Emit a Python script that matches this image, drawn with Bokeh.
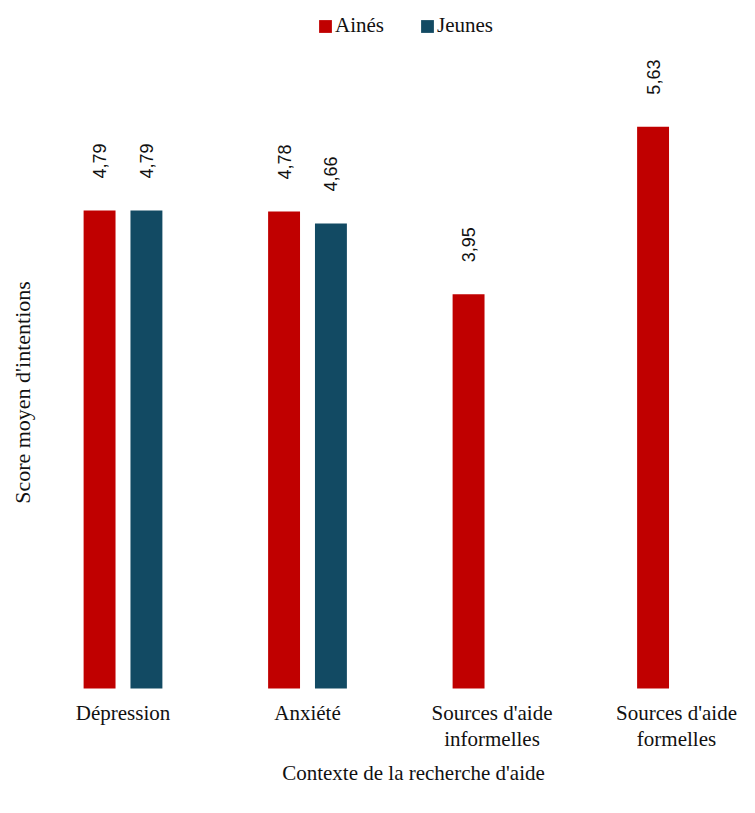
import math

from bokeh.embed import file_html
from bokeh.models import ColumnDataSource, Legend, LegendItem, Range1d
from bokeh.plotting import figure
from bokeh.resources import INLINE
from bokeh.core.properties import value

# Contexts of help seeking and mean intention scores per age group
categories = ["Dépression", "Anxiété", "Sources d'aide\ninformelles", "Sources d'aide\nformelles"]
aines = [4.79, 4.78, 3.95, 5.63]
jeunes = [4.79, 4.66, None, None]
aines_labels = ["4,79", "4,78", "3,95", "5,63"]
jeunes_labels = ["4,79", "4,66", None, None]
x_title = "Contexte de la recherche d'aide"
y_title = "Score moyen d'intentions"

RED = "#C00000"
TEAL = "#124A63"
INK = "#111111"
SERIF = "Liberation Serif"
SANS = "Liberation Sans"

W, H = 755, 813
BAR_W = 0.173
OFFSET = 0.127

# the plotting area covers the whole page; the ranges put the bars' baseline
# near the bottom and leave room for category names and titles
PX_X = 184.5            # pixels per category step
PX_Y = 99.8             # pixels per score unit
X0 = -122.5 / PX_X
X1 = X0 + W / PX_X
Y1 = 688 / PX_Y
Y0 = Y1 - H / PX_Y

idx = list(range(len(categories)))

src_a = ColumnDataSource(dict(
    x=[i - OFFSET for i in idx],
    top=aines,
    label=aines_labels,
))
j_idx = [i for i in idx if jeunes[i] is not None]
src_j = ColumnDataSource(dict(
    x=[i + OFFSET for i in j_idx],
    top=[jeunes[i] for i in j_idx],
    label=[jeunes_labels[i] for i in j_idx],
))
src_cat = ColumnDataSource(dict(x=idx, y=[0] * len(idx), text=categories))

p = figure(
    width=W, height=H,
    x_range=Range1d(X0, X1),
    y_range=Range1d(Y0, Y1),
    output_backend="svg",
    toolbar_location=None,
    x_axis_location=None, y_axis_location=None,
    min_border=0,
)
p.outline_line_color = None
p.grid.visible = False
p.background_fill_color = "white"
p.border_fill_color = "white"

r_a = p.vbar(x="x", top="top", width=BAR_W, bottom=0, source=src_a,
             fill_color=RED, line_color=None)
r_j = p.vbar(x="x", top="top", width=BAR_W, bottom=0, source=src_j,
             fill_color=TEAL, line_color=None)

# value labels, rotated, above each bar
for src in (src_a, src_j):
    p.text(x="x", y="top", text="label", source=src,
           angle=math.pi / 2, text_align="left", text_baseline="middle",
           y_offset=-32, text_font=value(SANS), text_font_size="18px",
           text_color=INK)

# category names under each group
p.text(x="x", y="y", text="text", source=src_cat,
       text_align="center", text_baseline="top", y_offset=12,
       text_font=value(SERIF), text_font_size="21px", text_color=INK,
       text_line_height=1.1)

# axis titles
p.text(x=[X0 + 413 / PX_X], y=[Y1 - 772 / PX_Y], text=[x_title],
       text_align="center", text_baseline="middle",
       text_font=value(SERIF), text_font_size="21px", text_color=INK)
p.text(x=[X0 + 22 / PX_X], y=[Y1 - 392 / PX_Y], text=[y_title],
       angle=math.pi / 2, text_align="center", text_baseline="middle",
       text_font=value(SERIF), text_font_size="22px", text_color=INK)

legend = Legend(
    items=[LegendItem(label="Ainés", renderers=[r_a]),
           LegendItem(label="Jeunes", renderers=[r_j])],
    orientation="horizontal",
    location=(317, H - 38),
    padding=0, margin=0, spacing=35,
    glyph_width=16, glyph_height=16, label_height=16,
    label_standoff=2,
    label_text_font=SERIF, label_text_font_size="21px",
    label_text_color=INK,
    border_line_color=None, background_fill_alpha=0,
)
p.add_layout(legend)

open("out.html", "w").write(file_html(p, INLINE))
